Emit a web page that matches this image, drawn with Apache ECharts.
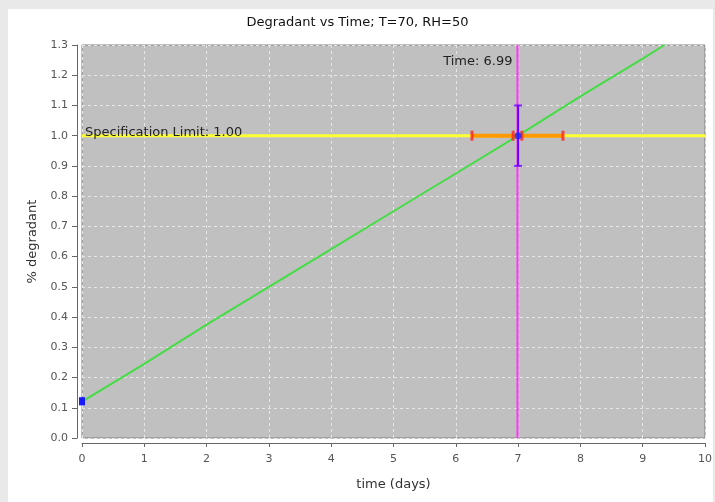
<!DOCTYPE html>
<html><head><meta charset="utf-8">
<script src="https://cdn.jsdelivr.net/npm/echarts@6/dist/echarts.min.js"></script>
<style>
html,body{margin:0;padding:0;background:#e9e9e9;width:715px;height:502px;overflow:hidden}
#panel{position:absolute;left:8px;top:9px;width:705px;height:493px;background:#fff}
#c{position:absolute;left:0;top:0;width:715px;height:502px}
</style></head><body>
<div id="panel"></div>
<div id="c"></div>
<script>
const titleText = "Degradant vs Time; T=70, RH=50";
const xTicks = [0,1,2,3,4,5,6,7,8,9,10];
const yTicks = [0.0,0.1,0.2,0.3,0.4,0.5,0.6,0.7,0.8,0.9,1.0,1.1,1.2,1.3];
const trendX = [0, 1, 2, 3, 4, 5, 6, 7, 8, 9, 9.35];
const trendY = [0.12, 0.245, 0.375, 0.50, 0.625, 0.75, 0.875, 1.0, 1.13, 1.255, 1.30];
const specLimit = 1.00;
const timeAtLimit = 6.99;
const timeCI = [6.26, 7.72];
const valueCI = [0.90, 1.10];
const initialPoint = [0, 0.12];
const initialSpread = [0.108, 0.135];

const chart = echarts.init(document.getElementById('c'), null, {renderer:'canvas'});
const font = 'DejaVu Sans';
chart.setOption({
  animation:false,
  backgroundColor:'transparent',
  title:{text:titleText,left:'center',top:11,textStyle:{fontFamily:font,fontSize:13,fontWeight:'normal',color:'#111'}},
  grid:{left:82,right:7,top:45,bottom:64,show:true,backgroundColor:'#c0c0c0',borderColor:'#808080',borderWidth:1},
  xAxis:{type:'value',min:0,max:10,interval:1,offset:5,
    name:'time (days)',nameLocation:'middle',nameGap:35,nameTextStyle:{fontFamily:font,fontSize:13,color:'#333'},
    axisLine:{show:true,onZero:false,lineStyle:{color:'#666',width:1}},axisTick:{show:true,length:4,lineStyle:{color:'#666'}},
    axisLabel:{fontFamily:font,fontSize:11,color:'#555',margin:11},
    splitLine:{show:true,lineStyle:{color:'#e6e6e6',type:[3,3],width:1}}},
  yAxis:{type:'value',min:0,max:1.3,interval:0.1,offset:5,
    name:'% degradant',nameLocation:'middle',nameGap:38,nameMoveOverlap:false,nameTextStyle:{fontFamily:font,fontSize:13,color:'#333'},
    axisLine:{show:true,onZero:false,lineStyle:{color:'#666',width:1}},axisTick:{show:true,length:5,lineStyle:{color:'#666'}},
    axisLabel:{fontFamily:font,fontSize:11,color:'#555',margin:9,formatter:v=>v.toFixed(1)},
    splitLine:{show:true,lineStyle:{color:'#e6e6e6',type:[3,3],width:1}}},
  series:[
    {type:'line',name:'spec',data:[[0,specLimit],[10,specLimit]],symbol:'none',z:3,
      lineStyle:{color:'#ffff33',width:3},
      markPoint:{symbol:'circle',symbolSize:0,data:[{coord:[0,specLimit],label:{show:true,position:'inside',offset:[3,3],formatter:'Specification Limit: '+specLimit.toFixed(2),fontFamily:font,fontSize:13,color:'#222',align:'left',verticalAlign:'bottom'}}]}},
    {type:'line',name:'trend',data:trendX.map((x,i)=>[x,trendY[i]]),symbol:'none',smooth:false,z:4,
      lineStyle:{color:'#44dd44',width:2}},
    {type:'line',name:'time',data:[[timeAtLimit,0],[timeAtLimit,1.3]],symbol:'none',z:5,
      lineStyle:{color:'#ff33ff',width:2},
      markPoint:{symbol:'circle',symbolSize:0,data:[{coord:[timeAtLimit,1.3],label:{show:true,position:'inside',formatter:'Time: '+timeAtLimit.toFixed(2),fontFamily:font,fontSize:13,color:'#222',align:'right',verticalAlign:'top',offset:[-5,10]}}]}},
    {type:'line',name:'timeCI',data:[[timeCI[0],specLimit],[timeCI[1],specLimit]],symbol:'none',z:6,
      lineStyle:{color:'#ff9900',width:4}},
    {type:'scatter',name:'timeCaps',data:[[timeCI[0],specLimit],[timeCI[1],specLimit],[6.92,specLimit],[7.06,specLimit]],symbol:'rect',symbolSize:[3,10],z:7,
      itemStyle:{color:'#ff2020'}},
    {type:'line',name:'valueCI',data:[[7.0,valueCI[0]],[7.0,valueCI[1]]],symbol:'none',z:8,
      lineStyle:{color:'#6a00ff',width:2}},
    {type:'scatter',name:'valueCaps',data:[[7.0,valueCI[0]],[7.0,valueCI[1]]],symbol:'rect',symbolSize:[8,2],z:8,
      itemStyle:{color:'#6a00ff'}},
    {type:'scatter',name:'center',data:[[7.0,specLimit]],symbol:'circle',symbolSize:7,z:9,
      itemStyle:{color:'#2020ff'}},
    {type:'line',name:'initial',data:[[initialPoint[0],initialSpread[0]],[initialPoint[0],initialSpread[1]]],symbol:'none',z:9,
      lineStyle:{color:'#1a1aff',width:6}}
  ]
});
</script>
</body></html>
